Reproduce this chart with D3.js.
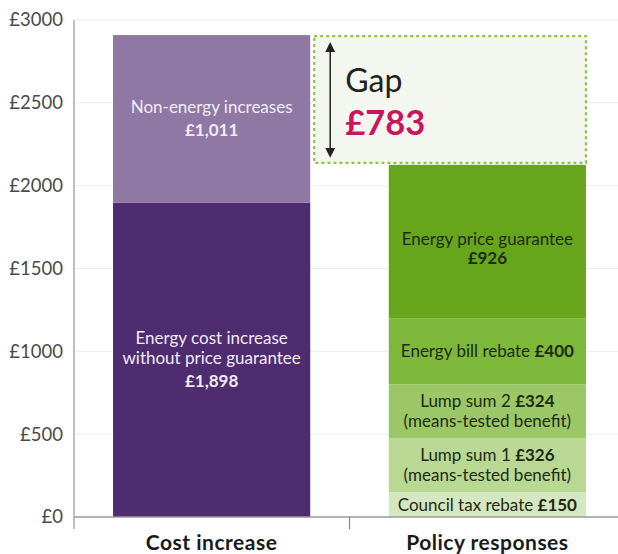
<!DOCTYPE html>
<html><head><meta charset="utf-8">
<script src="https://cdn.jsdelivr.net/npm/d3@7"></script>
<style>body{margin:0;background:#fff;font-family:Lato,"Open Sans",sans-serif}</style>
</head><body><svg id="c" width="618" height="554"></svg>
<script>
const categories = ["Cost increase", "Policy responses"];
const costLabels = [["Energy cost increase","without price guarantee"], ["Non-energy increases"]];
const costValues = [1898, 1011];
const costValueText = ["£1,898", "£1,011"];
const costColors = ["#4f2b70", "#8f78a4"];
const policyLabels = ["Council tax rebate", "Lump sum 1", "Lump sum 2", "Energy bill rebate", "Energy price guarantee"];
const policyNotes = ["", "(means-tested benefit)", "(means-tested benefit)", "", ""];
const policyValues = [150, 326, 324, 400, 926];
const policyColors = ["#d5e7c0", "#b8d893", "#9cc766", "#7db83a", "#67a61c"];
const yTicks = [0, 500, 1000, 1500, 2000, 2500, 3000];
const gapValue = 783;

const svg = d3.select("#c");
const y = d3.scaleLinear().domain([0, 3000]).range([517, 20]);
const x = d3.scaleBand().domain(categories).range([74, 625]).paddingInner(0.285).paddingOuter(0.1416);

// gridlines
svg.append("g").selectAll("line").data(yTicks.filter(d => d > 0)).join("line")
  .attr("x1", 74).attr("x2", 618).attr("y1", d => y(d)).attr("y2", d => y(d))
  .attr("stroke", "#ececec").attr("stroke-width", 1);

// y axis
const ya = svg.append("g").attr("transform", "translate(74,0)")
  .call(d3.axisLeft(y).tickValues(yTicks).tickSize(0).tickPadding(11).tickFormat(d => "£" + d));
ya.select(".domain").remove();
ya.selectAll("text").attr("font-size", 18.5).attr("fill", "#4a4a4a").attr("font-family", "Lato, sans-serif");
svg.append("line").attr("x1", 74).attr("x2", 74).attr("y1", 20).attr("y2", 529).attr("stroke", "#aaa").attr("stroke-width", 1.5);

// cost stack
const bw = x.bandwidth();
let acc = 0;
const costStack = costValues.map((v, i) => { const s = {y0: acc, y1: acc + v, i}; acc += v; return s; });
const costTotal = acc;
svg.append("g").selectAll("rect").data(costStack).join("rect")
  .attr("x", x(categories[0])).attr("width", bw)
  .attr("y", d => y(d.y1)).attr("height", d => y(d.y0) - y(d.y1))
  .attr("fill", d => costColors[d.i]);

acc = 0;
const polStack = policyValues.map((v, i) => { const s = {y0: acc, y1: acc + v, i}; acc += v; return s; });
const polTotal = acc;
svg.append("g").selectAll("rect").data(polStack).join("rect")
  .attr("x", x(categories[1])).attr("width", bw)
  .attr("y", d => y(d.y1)).attr("height", d => y(d.y0) - y(d.y1))
  .attr("fill", d => policyColors[d.i]);

// baseline
svg.append("line").attr("x1", 74).attr("x2", 618).attr("y1", y(0)).attr("y2", y(0)).attr("stroke", "#999").attr("stroke-width", 1.5);
svg.append("line").attr("x1", x(categories[1]) - (x.step() - bw) / 2).attr("x2", x(categories[1]) - (x.step() - bw) / 2)
  .attr("y1", y(0)).attr("y2", y(0) + 12).attr("stroke", "#888").attr("stroke-width", 1.2);

// category labels
svg.append("g").selectAll("text").data(categories).join("text")
  .attr("x", d => x(d) + bw / 2).attr("y", 550).attr("text-anchor", "middle")
  .attr("font-size", 21).attr("letter-spacing", 0.5).attr("font-weight", "bold").attr("fill", "#1a1a1a").text(d => d);

// cost labels
const cx = x(categories[0]) + bw / 2;
costStack.forEach((d, i) => {
  const mid = (y(d.y0) + y(d.y1)) / 2;
  const lines = costLabels[i];
  const n = lines.length + 1;
  const lh = 20;
  const top = mid - (n - 1) * lh / 2 + 4;
  const t = svg.append("text").attr("text-anchor", "middle").attr("fill", "#f1ecf5").attr("font-size", 17);
  lines.forEach((l, k) => t.append("tspan").attr("x", cx).attr("y", top + k * lh).text(l));
  t.append("tspan").attr("x", cx).attr("y", top + lines.length * lh + 3).attr("font-weight", "bold").text(costValueText[i]);
});

// policy labels
const px = x(categories[1]) + bw / 2;
polStack.forEach((d, i) => {
  const mid = (y(d.y0) + y(d.y1)) / 2;
  const t = svg.append("text").attr("text-anchor", "middle").attr("fill", "#1e2a14").attr("font-size", 17);
  if (i === 4) {
    t.append("tspan").attr("x", px).attr("y", mid + 4).text(policyLabels[i]);
    t.append("tspan").attr("x", px).attr("y", mid + 23).attr("font-weight", "bold").text("£" + policyValues[i]);
  } else if (policyNotes[i]) {
    t.append("tspan").attr("x", px).attr("y", mid - 4).text(policyLabels[i] + " ");
    t.append("tspan").attr("font-weight", "bold").text("£" + policyValues[i]);
    t.append("tspan").attr("x", px).attr("y", mid + 16).text(policyNotes[i]);
  } else {
    t.append("tspan").attr("x", px).attr("y", mid + 6).text(policyLabels[i] + " ");
    t.append("tspan").attr("font-weight", "bold").text("£" + policyValues[i]);
  }
});

// gap box
const gx0 = x(categories[0]) + bw + 4, gx1 = x(categories[1]) + bw;
svg.append("rect").attr("x", gx0).attr("y", y(costTotal) + 1).attr("width", gx1 - gx0)
  .attr("height", y(polTotal) - y(costTotal) - 3)
  .attr("fill", "#f4f7ef").attr("stroke", "#8cc63f").attr("stroke-width", 2.2).attr("stroke-dasharray", "3,3");

svg.append("defs").append("marker").attr("id", "ah").attr("viewBox", "0 0 10 10").attr("refX", 5).attr("refY", 5)
  .attr("markerWidth", 10).attr("markerHeight", 10).attr("orient", "auto-start-reverse").attr("markerUnits", "userSpaceOnUse")
  .append("path").attr("d", "M0,0 L10,5 L0,10 Z").attr("fill", "#222");
svg.append("line").attr("x1", gx0 + 16).attr("x2", gx0 + 16).attr("y1", y(costTotal) + 12).attr("y2", y(polTotal) - 12)
  .attr("stroke", "#222").attr("stroke-width", 1.5).attr("marker-start", "url(#ah)").attr("marker-end", "url(#ah)");
svg.append("text").attr("x", gx0 + 31).attr("y", 92).attr("font-size", 32).attr("fill", "#222").text("Gap");
svg.append("text").attr("x", gx0 + 31).attr("y", 135).attr("font-size", 34.5).attr("font-weight", "bold").attr("fill", "#c8155e").text("£" + gapValue);
</script></body></html>
